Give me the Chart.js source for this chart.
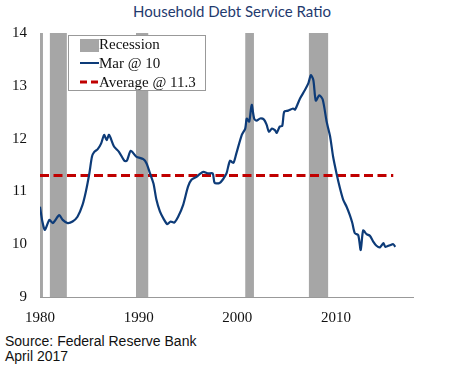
<!DOCTYPE html>
<html>
<head>
<meta charset="utf-8">
<script src="https://cdn.jsdelivr.net/npm/chart.js@4"></script>
<style>
  body { margin: 0; background: #fff; width: 450px; height: 368px; position: relative; overflow: hidden; }
  #title { position: absolute; left: 0; width: 464px; top: 2px; text-align: center; font: 15px Lato, sans-serif; color: #1F3A6E; }
  #wrap { position: absolute; left: 0; top: 0; width: 450px; height: 330px; }
  #source { position: absolute; left: 5px; top: 334px; font: 14px "Liberation Sans", Arial, sans-serif; line-height: 15px; color: #111; }
</style>
</head>
<body>
<div id="title">Household Debt Service Ratio</div>
<div id="wrap"><canvas id="chart"></canvas></div>
<div id="source">Source: Federal Reserve Bank<br>April 2017</div>
<script>
// debt service ratio (year, % of disposable income)
const years = [1980.0, 1980.25, 1980.5, 1980.95, 1981.3, 1981.95, 1982.3, 1982.8, 1983.3, 1983.8,
  1984.3, 1984.65, 1985.0, 1985.27, 1985.5, 1985.85, 1986.2, 1986.5, 1986.75, 1987.0,
  1987.5, 1988.0, 1988.55, 1988.8, 1989.2, 1989.75, 1990.47, 1990.8, 1991.15, 1991.5,
  1991.8, 1992.15, 1992.5, 1992.9, 1993.25, 1993.6, 1994.0, 1994.5, 1995.0, 1995.35,
  1995.9, 1996.2, 1996.55, 1997.05, 1997.5, 1997.7, 1998.2, 1998.55, 1998.9, 1999.25,
  1999.6, 1999.9, 2000.45, 2000.8, 2000.95, 2001.2, 2001.45, 2001.7, 2001.95, 2002.3,
  2002.7, 2002.97, 2003.2, 2003.5, 2003.8, 2004.0, 2004.3, 2004.55, 2004.75, 2005.15,
  2005.65, 2005.85, 2006.35, 2006.85, 2007.2, 2007.45, 2007.7, 2007.95, 2008.3, 2008.65,
  2009.05, 2009.4, 2009.7, 2010.05, 2010.4, 2010.73, 2011.07, 2011.4, 2011.65, 2011.9,
  2012.25, 2012.5, 2012.75, 2013.1, 2013.43, 2013.77, 2014.1, 2014.45, 2014.8, 2015.0,
  2015.45, 2015.8, 2016.0]
const dsr = [10.71, 10.42, 10.27, 10.46, 10.40, 10.55, 10.46, 10.40, 10.43, 10.52,
  10.74, 11.0, 11.34, 11.66, 11.75, 11.80, 11.91, 12.07, 11.97, 12.07,
  11.85, 11.75, 11.58, 11.58, 11.77, 11.66, 11.61, 11.53, 11.34, 11.15,
  10.84, 10.62, 10.49, 10.38, 10.43, 10.41, 10.52, 10.74, 11.09, 11.22,
  11.28, 11.33, 11.37, 11.34, 11.34, 11.16, 11.16, 11.23, 11.34, 11.58,
  11.54, 11.72, 12.07, 12.19, 12.38, 12.32, 12.64, 12.38, 12.34, 12.38,
  12.36, 12.26, 12.13, 12.19, 12.16, 12.11, 12.23, 12.24, 12.51, 12.53,
  12.57, 12.55, 12.76, 12.92, 13.05, 13.20, 13.11, 12.72, 12.82, 12.74,
  12.32, 12.04, 11.66, 11.34, 11.06, 10.84, 10.71, 10.55, 10.40, 10.21,
  10.17, 9.89, 10.26, 10.19, 10.16, 10.05, 9.97, 9.94, 10.02, 9.95,
  9.98, 10.0, 9.95]

const avgValue = 11.3
const avgYears = [1980, 2015.8]

const recStart = [1980.0, 1981.0, 1989.73, 2000.8, 2007.25]
const recEnd = [1980.3, 1982.72, 1990.97, 2001.68, 2009.2]

const xTicks = [1980, 1990, 2000, 2010]
const yTicks = [9, 10, 11, 12, 13, 14]

const legendLabels = ['Recession', 'Mar @ 10', 'Average @ 11.3']

const NAVY = '#0D3B78'
const RED = '#C00000'
const GREY = '#A6A6A6'
const serif = "'Liberation Serif', 'DejaVu Serif', serif"

const recessions = {
    id: 'recessions',
    beforeDatasetsDraw(chart) {
        const { ctx, chartArea, scales: { x } } = chart
        ctx.save()
        recStart.forEach((s, i) => {
            const x0 = x.getPixelForValue(s)
            const x1 = x.getPixelForValue(recEnd[i])
            ctx.fillStyle = GREY
            ctx.fillRect(x0, chartArea.top, x1 - x0, chartArea.bottom - chartArea.top)
        })
        ctx.restore()
    }
}

const boxLegend = {
    id: 'boxLegend',
    afterDraw(chart) {
        const { ctx, chartArea } = chart
        const left = chartArea.left + 28, top = chartArea.top + 2
        ctx.save()
        ctx.fillStyle = '#fff'
        ctx.fillRect(left, top, 137, 55)
        ctx.strokeStyle = '#999'
        ctx.lineWidth = 1
        ctx.strokeRect(left + 0.5, top + 0.5, 137, 55)
        const sx = left + 12, tx = left + 31
        ctx.fillStyle = GREY
        ctx.fillRect(sx, top + 4, 19, 13)
        ctx.strokeStyle = NAVY
        ctx.lineWidth = 2
        ctx.beginPath(); ctx.moveTo(sx, top + 28); ctx.lineTo(sx + 19, top + 28); ctx.stroke()
        ctx.strokeStyle = RED
        ctx.lineWidth = 3
        ctx.setLineDash([7, 4])
        ctx.beginPath(); ctx.moveTo(sx, top + 47); ctx.lineTo(sx + 19, top + 47); ctx.stroke()
        ctx.setLineDash([])
        ctx.fillStyle = '#111'
        ctx.font = '15px ' + serif
        ctx.textBaseline = 'middle'
        legendLabels.forEach((t, i) => ctx.fillText(t, tx, top + 10 + i * 19))
        ctx.restore()
    }
}

const chart = document.querySelector('#chart').getContext('2d')

new Chart(chart, {
    type: 'line',
    data: {
        datasets: [
            {
                label: legendLabels[1],
                data: years.map((y, i) => ({ x: y, y: dsr[i] })),
                borderColor: NAVY,
                borderWidth: 2.2,
                pointRadius: 0,
                tension: 0.25
            },
            {
                label: legendLabels[2],
                data: avgYears.map(y => ({ x: y, y: avgValue })),
                borderColor: RED,
                borderWidth: 3,
                borderDash: [9, 4.5],
                pointRadius: 0
            }
        ]
    },
    options: {
        responsive: true,
        maintainAspectRatio: false,
        animation: false,
        layout: { padding: { top: 33, right: 37, left: 0, bottom: 0 } },
        plugins: {
            legend: { display: false },
            tooltip: { enabled: false }
        },
        scales: {
            x: {
                type: 'linear',
                min: 1980,
                max: 2017.8,
                afterBuildTicks: axis => { axis.ticks = xTicks.map(v => ({ value: v })) },
                afterFit: axis => { axis.height = 33 },
                grid: { display: false, drawTicks: false },
                border: { display: true, color: '#999', width: 1 },
                ticks: { padding: 12, color: '#111', font: { family: serif, size: 15 }, callback: v => String(v) }
            },
            y: {
                min: 9,
                max: 14,
                afterBuildTicks: axis => { axis.ticks = yTicks.map(v => ({ value: v })) },
                afterFit: axis => { axis.width = 40 },
                grid: { display: false, drawTicks: false },
                border: { display: false },
                ticks: { padding: 13, color: '#111', font: { family: serif, size: 15 } }
            }
        }
    },
    plugins: [recessions, boxLegend]
})
</script>
</body>
</html>
